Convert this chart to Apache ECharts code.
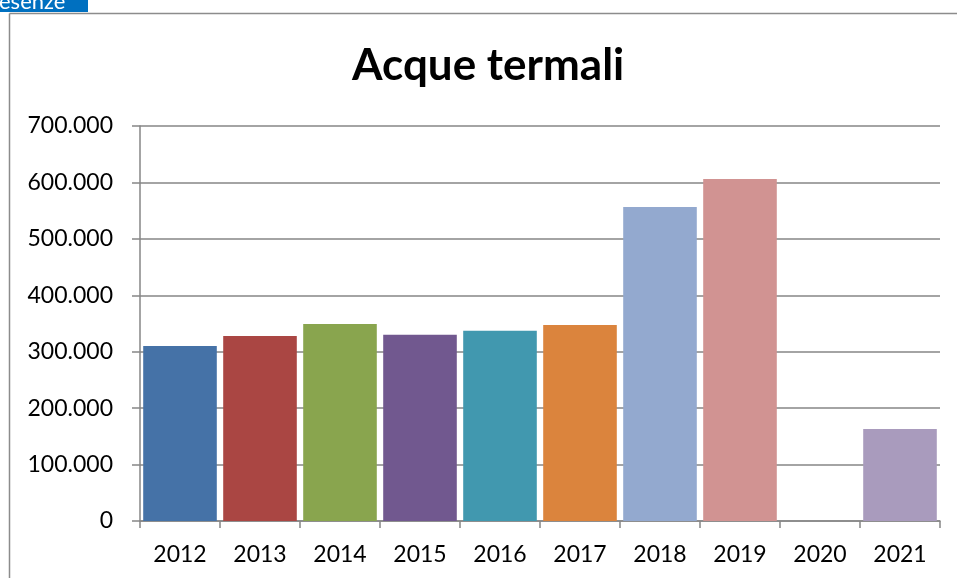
<!DOCTYPE html>
<html>
<head>
<meta charset="utf-8">
<script src="https://cdn.jsdelivr.net/npm/echarts@6/dist/echarts.min.js"></script>
<style>html,body{margin:0;padding:0;background:#fff;}#c{width:957px;height:578px;}</style>
</head>
<body>
<div id="c"></div>
<script>
const titleText = "Acque termali";
const years = ["2012","2013","2014","2015","2016","2017","2018","2019","2020","2021"];
const values = [310000, 328000, 349000, 330000, 337000, 347500, 556500, 606000, 0, 163000];
const barColors = ["#4572A7","#AA4643","#89A54E","#71588F","#4198AF","#DB843D","#93A9CF","#D19392","#B9CD96","#A99BBD"];
const yTicks = [0, 100000, 200000, 300000, 400000, 500000, 600000, 700000];

function fmt(v){
  return String(v).replace(/\B(?=(\d{3})+(?!\d))/g, ".");
}

const chart = echarts.init(document.getElementById('c'), null, {renderer:'canvas'});
chart.setOption({
  animation:false,
  backgroundColor:'#ffffff',
  title:{
    text:titleText,
    left:347,
    top:39,
    textStyle:{fontFamily:'Lato',fontWeight:'bold',fontSize:44,color:'#000'}
  },
  graphic:[
    {type:'line',shape:{x1:9.5,y1:13.5,x2:9.5,y2:578},style:{stroke:'#8c8c8c',lineWidth:1.5},silent:true},
    {type:'line',shape:{x1:9.5,y1:13.5,x2:957,y2:13.5},style:{stroke:'#8c8c8c',lineWidth:1.5},silent:true},
    {type:'rect',shape:{x:0,y:0,width:88,height:12},style:{fill:'#0070C0'},silent:true},
    {type:'text',x:-1,y:12.5,style:{text:'esenze',fill:'#ffffff',font:'22px Lato',textVerticalAlign:'bottom'},silent:true}
  ],
  grid:{left:140,right:17,top:126,bottom:57,containLabel:false},
  xAxis:{
    type:'category',
    data:years,
    axisLine:{lineStyle:{color:'#868686',width:1.5}},
    axisTick:{show:true,length:7,lineStyle:{color:'#868686',width:1.5}},
    axisLabel:{color:'#000',fontFamily:'Lato',fontSize:23,margin:22}
  },
  yAxis:{
    type:'value',
    min:yTicks[0],
    max:yTicks[yTicks.length-1],
    interval:yTicks[1]-yTicks[0],
    axisLine:{show:true,lineStyle:{color:'#868686',width:1.5}},
    axisTick:{show:true,length:8,lineStyle:{color:'#868686',width:1.5}},
    splitLine:{show:true,lineStyle:{color:'#868686',width:1.5}},
    axisLabel:{color:'#000',fontFamily:'Lato',fontSize:23,margin:27,formatter:fmt}
  },
  series:[{
    type:'bar',
    barCategoryGap:'8%',
    data:values.map((v,i)=>({value:v,itemStyle:{color:barColors[i]}}))
  }]
});
</script>
</body>
</html>
